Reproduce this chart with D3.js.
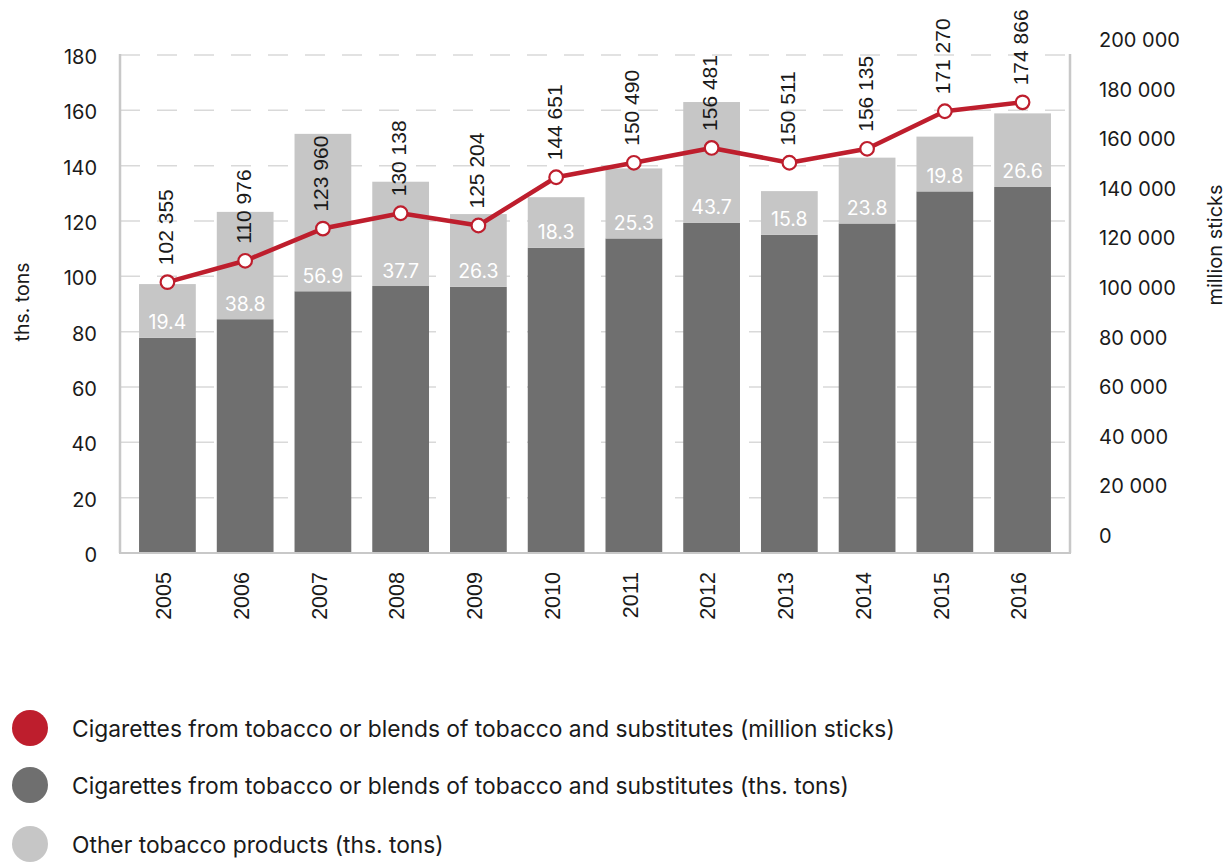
<!DOCTYPE html>
<html>
<head>
<meta charset="utf-8">
<script src="https://cdn.jsdelivr.net/npm/d3@7"></script>
<style>
  body { margin: 0; background: #fff; }
  svg { display: block; }
</style>
</head>
<body>
<script>
// Production by year
const years = ["2005", "2006", "2007", "2008", "2009", "2010", "2011", "2012", "2013", "2014", "2015", "2016"];
// Cigarettes from tobacco or blends (ths. tons) – dark segment
const cigaretteTons = [77.8, 84.5, 94.6, 96.5, 96.2, 110.3, 113.7, 119.3, 115.0, 119.1, 130.7, 132.3];
// Other tobacco products (ths. tons) – light segment stacked on top
const otherTons = [19.4, 38.8, 56.9, 37.7, 26.3, 18.3, 25.3, 43.7, 15.8, 23.8, 19.8, 26.6];
// Cigarettes (million sticks) – line on the right axis
const cigaretteSticks = [102355, 110976, 123960, 130138, 125204, 144651, 150490, 156481, 150511, 156135, 171270, 174866];

const leftTicks = [0, 20, 40, 60, 80, 100, 120, 140, 160, 180];
const rightTicks = [0, 20000, 40000, 60000, 80000, 100000, 120000, 140000, 160000, 180000, 200000];

const legendItems = [
  "Cigarettes from tobacco or blends of tobacco and substitutes (million sticks)",
  "Cigarettes from tobacco or blends of tobacco and substitutes (ths. tons)",
  "Other tobacco products (ths. tons)"
];

const colors = { red: "#be1e2d", dark: "#6f6f6f", light: "#c6c6c6", axis: "#c8c8c8", grid: "#d9d9d9", text: "#1a1a1a" };

const W = 1231, H = 863;
const plot = { left: 120, right: 1070, top: 55, bottom: 553 };

const svg = d3.select("body").append("svg").attr("width", W).attr("height", H);

const x = d3.scaleBand().domain(years).range([plot.left, plot.right]).paddingInner(0.27).paddingOuter(0.245);
const yL = d3.scaleLinear().domain([0, 180]).range([plot.bottom, plot.top]);
const yR = d3.scaleLinear().domain([0, 200000]).range([536, 40]);

const spaceFmt = d3.formatLocale({ decimal: ".", thousands: "\u00a0", grouping: [3], currency: ["", ""] });
const fmtSticks = spaceFmt.format(",d");
const fmtTons = d3.format(".1f");

const uiFont = "Inter, 'DejaVu Sans', sans-serif";
const numFont = "'Liberation Sans', Arial, sans-serif";

// dashed horizontal gridlines
svg.append("g").selectAll("line")
  .data(leftTicks.filter(d => d > 0))
  .join("line")
  .attr("x1", plot.left).attr("x2", plot.right)
  .attr("y1", d => yL(d)).attr("y2", d => yL(d))
  .attr("stroke", colors.grid).attr("stroke-width", 1.5)
  .attr("stroke-dasharray", "20,17");

// stacked bars
const barG = svg.append("g");
barG.selectAll("rect.dark")
  .data(years)
  .join("rect").attr("class", "dark")
  .attr("x", d => x(d)).attr("width", x.bandwidth())
  .attr("y", (d, i) => yL(cigaretteTons[i]))
  .attr("height", (d, i) => yL(0) - yL(cigaretteTons[i]))
  .attr("fill", colors.dark);
barG.selectAll("rect.light")
  .data(years)
  .join("rect").attr("class", "light")
  .attr("x", d => x(d)).attr("width", x.bandwidth())
  .attr("y", (d, i) => yL(cigaretteTons[i] + otherTons[i]))
  .attr("height", (d, i) => yL(cigaretteTons[i]) - yL(cigaretteTons[i] + otherTons[i]))
  .attr("fill", colors.light);

// values of the light segment
barG.selectAll("text.other")
  .data(years)
  .join("text").attr("class", "other")
  .attr("x", d => x(d) + x.bandwidth() / 2)
  .attr("y", (d, i) => yL(cigaretteTons[i]) - 8.5)
  .attr("text-anchor", "middle")
  .attr("font-family", uiFont).attr("font-size", 19.5)
  .attr("fill", "#fff")
  .text((d, i) => fmtTons(otherTons[i]));

// axis frame
const frame = svg.append("g").attr("stroke", colors.axis).attr("fill", "none");
frame.append("line").attr("x1", plot.left).attr("x2", plot.left).attr("y1", plot.top - 1).attr("y2", plot.bottom).attr("stroke-width", 2.5);
frame.append("line").attr("x1", plot.right).attr("x2", plot.right).attr("y1", plot.top - 1).attr("y2", plot.bottom).attr("stroke-width", 2.5);
frame.append("line").attr("x1", plot.left - 1).attr("x2", plot.right + 1).attr("y1", plot.bottom).attr("y2", plot.bottom).attr("stroke-width", 2);

// left axis
const axL = svg.append("g").attr("transform", `translate(${plot.left},0)`)
  .call(d3.axisLeft(yL).tickValues(leftTicks).tickSize(0).tickPadding(23).tickFormat(d3.format("d")));
axL.select(".domain").remove();
axL.selectAll("text").attr("font-family", uiFont).attr("font-size", 20).attr("fill", colors.text).attr("dy", "0.42em");

// right axis
const axR = svg.append("g").attr("transform", `translate(${plot.right},0)`)
  .call(d3.axisRight(yR).tickValues(rightTicks).tickSize(0).tickPadding(29).tickFormat(fmtSticks));
axR.select(".domain").remove();
axR.selectAll("text").attr("font-family", uiFont).attr("font-size", 20).attr("fill", colors.text);

// axis titles
svg.append("text")
  .attr("transform", `translate(22,302) rotate(-90)`)
  .attr("text-anchor", "middle").attr("dy", "0.35em")
  .attr("font-family", uiFont).attr("font-size", 19.5).attr("fill", colors.text)
  .text("ths. tons");
svg.append("text")
  .attr("transform", `translate(1215,245) rotate(-90)`)
  .attr("text-anchor", "middle").attr("dy", "0.35em")
  .attr("font-family", uiFont).attr("font-size", 20).attr("fill", colors.text)
  .text("million sticks");

// year labels
svg.append("g").selectAll("text")
  .data(years)
  .join("text")
  .attr("transform", d => `translate(${x(d) + x.bandwidth() / 2 - 4},572) rotate(-90)`)
  .attr("text-anchor", "end").attr("dy", "0.36em")
  .attr("font-family", numFont).attr("font-size", 21.5).attr("fill", colors.text)
  .text(d => d);

// line for million sticks
const cx = d => x(d) + x.bandwidth() / 2;
const line = d3.line().x(d => cx(d)).y((d, i) => yR(cigaretteSticks[i]));
svg.append("path")
  .datum(years)
  .attr("d", line)
  .attr("fill", "none").attr("stroke", colors.red).attr("stroke-width", 4.5).attr("stroke-linejoin", "round");

svg.append("g").selectAll("circle")
  .data(years)
  .join("circle")
  .attr("cx", d => cx(d))
  .attr("cy", (d, i) => yR(cigaretteSticks[i]))
  .attr("r", 6.8)
  .attr("fill", "#fff").attr("stroke", colors.red).attr("stroke-width", 2.2);

// value labels above the points
svg.append("g").selectAll("text")
  .data(years)
  .join("text")
  .attr("transform", (d, i) => `translate(${cx(d) - 2},${yR(cigaretteSticks[i]) - 17}) rotate(-90)`)
  .attr("text-anchor", "start").attr("dy", "0.36em")
  .attr("font-family", numFont).attr("font-size", 21).attr("fill", colors.text)
  .text((d, i) => fmtSticks(cigaretteSticks[i]));

// legend
const legendColors = [colors.red, colors.dark, colors.light];
const legendY = [728, 785, 844];
const lg = svg.append("g").selectAll("g")
  .data(legendItems)
  .join("g")
  .attr("transform", (d, i) => `translate(0,${legendY[i]})`);
lg.append("circle").attr("cx", 30).attr("cy", 0).attr("r", 18).attr("fill", (d, i) => legendColors[i]);
lg.append("text").attr("x", 72).attr("y", 0).attr("dy", "0.38em")
  .attr("font-family", uiFont).attr("font-size", 22.8).attr("fill", colors.text)
  .text(d => d);
</script>
</body>
</html>
